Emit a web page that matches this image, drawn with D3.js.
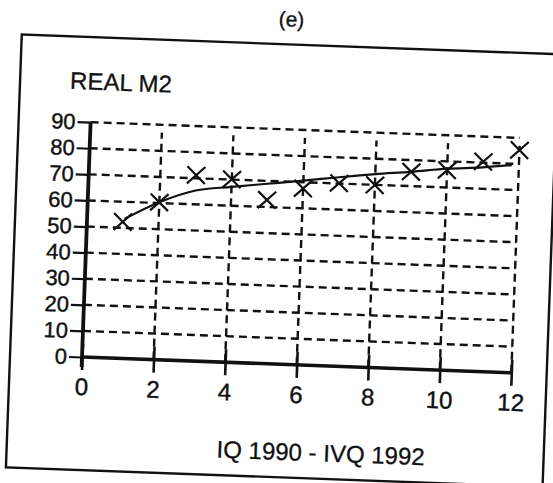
<!DOCTYPE html>
<html>
<head>
<meta charset="utf-8">
<script src="https://cdn.jsdelivr.net/npm/d3@7"></script>
<style>
  html, body { margin: 0; padding: 0; background: #fff; }
  svg { display: block; }
  text { font-family: "Liberation Sans", Arial, sans-serif; fill: #111; }
</style>
</head>
<body>
<script>
// ---- data ----
const quarters = [1, 2, 3, 4, 5, 6, 7, 8, 9, 10, 11, 12];
const realM2 = [52.3, 60.3, 71.2, 70.1, 62.7, 67.6, 70.1, 69.9, 75.5, 76.6, 80.4, 85.3];
const trendX = [1.05, 2, 3, 4, 5, 6, 7, 8, 9, 10, 11, 11.8];
const trendY = [53.5, 60.3, 65.3, 67.2, 68.9, 70.6, 72.4, 74.1, 75.5, 77.2, 78.2, 79.5];
const xTicks = [0, 2, 4, 6, 8, 10, 12];
const yTicks = [0, 10, 20, 30, 40, 50, 60, 70, 80, 90];
const gridX = [2, 4, 6, 8, 10, 12];
const gridY = [10, 20, 30, 40, 50, 60, 70, 80, 90];
const title = "(e)";
const yTitle = "REAL M2";
const xTitle = "IQ 1990 - IVQ 1992";

const W = 553, H = 483;
const svg = d3.select("body").append("svg").attr("width", W).attr("height", H);
svg.append("rect").attr("width", W).attr("height", H).attr("fill", "#fff");

const ox = 82, oy = 357;
const x = d3.scaleLinear().domain([0, 12]).range([ox, 511.6]);
const y = d3.scaleLinear().domain([0, 90]).range([oy, 122]);

// whole scanned page is slightly tilted
const g = svg.append("g").attr("transform", `rotate(2.1, ${ox}, ${oy})`);

// title
g.append("text").attr("x", 279).attr("y", 19).attr("text-anchor", "middle")
  .attr("font-size", 21).attr("stroke", "#111").attr("stroke-width", 0.3).text(title);

// frame
g.append("rect").attr("x", 10).attr("y", 37).attr("width", 537).attr("height", 433)
  .attr("fill", "none").attr("stroke", "#111").attr("stroke-width", 2.4);

// y title
g.append("text").attr("x", 60).attr("y", 89.5).attr("font-size", 24)
  .attr("stroke", "#111").attr("stroke-width", 0.3).text(yTitle);

// grid
const dash = "8,5";
g.append("g").selectAll("line").data(gridY).join("line")
  .attr("x1", x(0)).attr("x2", x(12))
  .attr("y1", d => y(d)).attr("y2", d => y(d))
  .attr("stroke", "#111").attr("stroke-width", 2.4).attr("stroke-dasharray", dash);
g.append("g").selectAll("line").data(gridX).join("line")
  .attr("x1", d => x(d)).attr("x2", d => x(d))
  .attr("y1", y(0)).attr("y2", y(87))
  .attr("stroke", "#111").attr("stroke-width", 2.4).attr("stroke-dasharray", dash);

// y axis
const yAxis = g.append("g").attr("transform", `translate(${ox},0)`)
  .call(d3.axisLeft(y).tickValues(yTicks).tickSize(13).tickPadding(2).tickSizeOuter(0));
yAxis.select(".domain").remove();
yAxis.selectAll(".tick line").attr("stroke", "#111").attr("stroke-width", 2.2);
yAxis.selectAll(".tick text").attr("font-size", 22).attr("fill", "#111")
  .attr("stroke", "#111").attr("stroke-width", 0.4)
  .attr("font-family", "Liberation Sans, Arial, sans-serif");
g.append("line").attr("x1", ox).attr("x2", ox).attr("y1", y(0) + 10).attr("y2", y(90))
  .attr("stroke", "#111").attr("stroke-width", 3.8);

// x axis
const xAxis = g.append("g").attr("transform", `translate(0,${oy})`)
  .call(d3.axisBottom(x).tickValues(xTicks).tickSize(12).tickPadding(9).tickSizeOuter(0));
xAxis.select(".domain").remove();
xAxis.selectAll(".tick line").attr("y1", -13).attr("y2", 13)
  .attr("stroke", "#111").attr("stroke-width", 2.6);
xAxis.selectAll(".tick text").attr("font-size", 24).attr("fill", "#111")
  .attr("stroke", "#111").attr("stroke-width", 0.4)
  .attr("font-family", "Liberation Sans, Arial, sans-serif");
g.append("line").attr("x1", x(0)).attr("x2", x(12)).attr("y1", oy).attr("y2", oy)
  .attr("stroke", "#111").attr("stroke-width", 3.6);

// x title
g.append("text").attr("x", 324).attr("y", 452.5).attr("text-anchor", "middle")
  .attr("font-size", 24).attr("stroke", "#111").attr("stroke-width", 0.3).text(xTitle);

// trend curve
const line = d3.line().x(d => x(d[0])).y(d => y(d[1])).curve(d3.curveMonotoneX);
g.append("path").datum(trendX.map((v, i) => [v, trendY[i]]))
  .attr("d", line).attr("fill", "none").attr("stroke", "#111").attr("stroke-width", 2.2);

// X markers
g.append("g").selectAll("path").data(quarters.map((q, i) => [q, realM2[i]])).join("path")
  .attr("d", d => {
    const cx = x(d[0]), cy = y(d[1]), a = 9, b = 8.5;
    return `M${cx - a},${cy - b}L${cx + a},${cy + b}M${cx - a},${cy + b}L${cx + a},${cy - b}`;
  })
  .attr("fill", "none").attr("stroke", "#111").attr("stroke-width", 2.2);
</script>
</body>
</html>
